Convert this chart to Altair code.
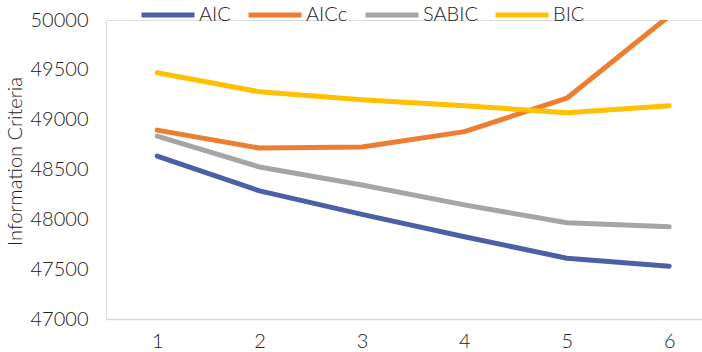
import altair as alt
import pandas as pd

models = [1, 2, 3, 4, 5, 6]
aic = [48635, 48285, 48050, 47825, 47610, 47530]
aicc = [48895, 48715, 48725, 48880, 49215, 50040]
sabic = [48835, 48525, 48345, 48145, 47965, 47925]
bic = [49470, 49280, 49200, 49140, 49070, 49140]

series = ["AIC", "AICc", "SABIC", "BIC"]
colors = ["#4E5FA8", "#ED7D31", "#A5A5A5", "#FFC000"]

rows = []
for name, vals in zip(series, [aic, aicc, sabic, bic]):
    for m, v in zip(models, vals):
        rows.append({"Model": m, "Value": v, "Criterion": name})
df = pd.DataFrame(rows)

FONT = "Lato"
W = 300

chart = alt.Chart(df).mark_line(strokeWidth=5, strokeCap="round", strokeJoin="round", clip=True).encode(
    x=alt.X("Model:Q",
            scale=alt.Scale(domain=[0.5, 6.32], nice=False, zero=False),
            axis=alt.Axis(values=models, format="d", title=None, grid=False, ticks=False,
                          domainColor="#D9D9D9", domainWidth=1.5,
                          labelFontSize=20, labelColor="#222222", labelPadding=12,
                          labelFont=FONT, labelFontWeight=W)),
    y=alt.Y("Value:Q",
            scale=alt.Scale(domain=[47000, 50000], nice=False, zero=False),
            axis=alt.Axis(values=[47000, 47500, 48000, 48500, 49000, 49500, 50000],
                          format="d", title="Information Criteria", grid=False, ticks=False,
                          domain=False, labelFontSize=20, labelColor="#222222",
                          labelPadding=18, labelFont=FONT, labelFontWeight=W,
                          titleFont=FONT, titleFontSize=20, titleFontWeight=W,
                          titleColor="#222222", titleX=-81, titleY=141)),
    color=alt.Color("Criterion:N",
                    scale=alt.Scale(domain=series, range=colors),
                    sort=series,
                    legend=alt.Legend(title=None, orient="none", direction="horizontal",
                                      legendX=33, legendY=-34,
                                      symbolType="stroke", symbolSize=2809,
                                      symbolStrokeWidth=5, labelFontSize=20,
                                      labelFont=FONT, labelFontWeight=W, labelColor="#222222",
                                      labelOffset=2, columnPadding=7)),
    order=alt.Order("Model:Q"),
).properties(
    width=596, height=299,
    padding={"left": 106, "right": 0, "top": 20, "bottom": 33},
    autosize=alt.AutoSizeParams(type="none"),
).configure_view(stroke=None).configure(background="white")

chart.save("out.html", embed_options={"renderer": "svg", "actions": False})
